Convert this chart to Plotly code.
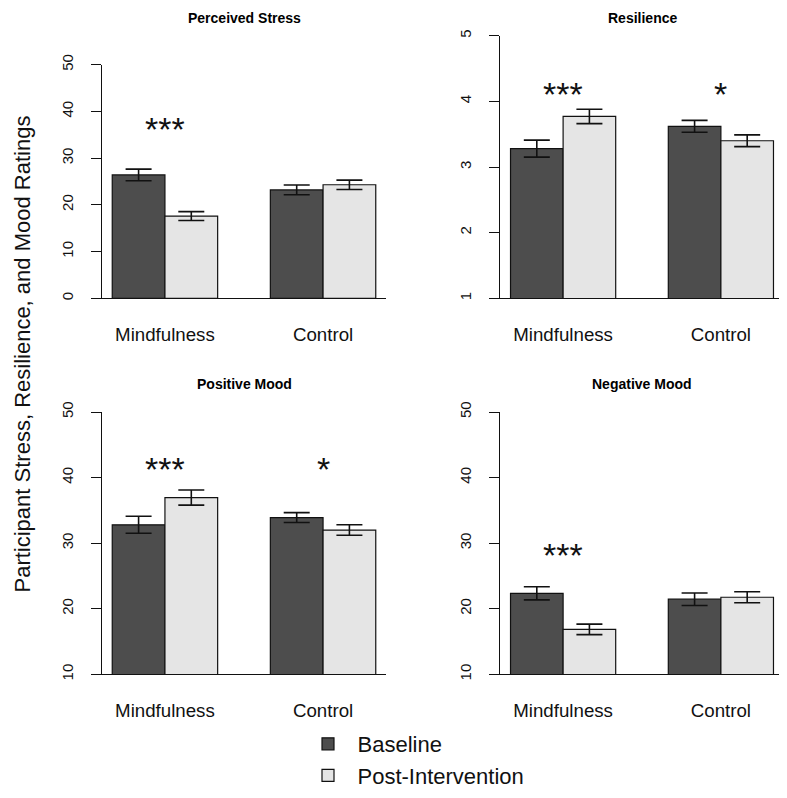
import plotly.graph_objects as go

groups = ["Mindfulness", "Control"]
series_names = ["Baseline", "Post-Intervention"]

panel_titles = ["Perceived Stress", "Resilience", "Positive Mood", "Negative Mood"]

stress_base = [26.4, 23.2]
stress_base_se = [1.25, 1.05]
stress_post = [17.6, 24.3]
stress_post_se = [0.95, 1.0]

resil_base = [3.28, 3.62]
resil_base_se = [0.13, 0.09]
resil_post = [3.77, 3.40]
resil_post_se = [0.11, 0.09]

posmood_base = [32.8, 33.9]
posmood_base_se = [1.3, 0.75]
posmood_post = [36.95, 32.0]
posmood_post_se = [1.15, 0.8]

negmood_base = [22.35, 21.45]
negmood_base_se = [1.0, 0.95]
negmood_post = [16.85, 21.75]
negmood_post_se = [0.8, 0.85]

# significance markers per panel: (group, label)
stress_sig = [("Mindfulness", "***")]
resil_sig = [("Mindfulness", "***"), ("Control", "*")]
posmood_sig = [("Mindfulness", "***"), ("Control", "*")]
negmood_sig = [("Mindfulness", "***")]

y_ticks = [
    [0, 10, 20, 30, 40, 50],
    [1, 2, 3, 4, 5],
    [10, 20, 30, 40, 50],
    [10, 20, 30, 40, 50],
]

# the page body keeps its default 8px margin, so the figure is 16px smaller
PAD = 8
W, H = 787 - 2 * PAD, 798 - 2 * PAD
FONT = "Liberation Sans, Arial, sans-serif"
DARK = "#4d4d4d"
LIGHT = "#e5e5e5"

panels = [
    (stress_base, stress_base_se, stress_post, stress_post_se, stress_sig),
    (resil_base, resil_base_se, resil_post, resil_post_se, resil_sig),
    (posmood_base, posmood_base_se, posmood_post, posmood_post_se, posmood_sig),
    (negmood_base, negmood_base_se, negmood_post, negmood_post_se, negmood_sig),
]

# plot regions in page pixels: (left, right, top, bottom)
regions = [
    (101.7, 386.3, 64.7, 298.3),
    (500.0, 784.0, 35.7, 298.3),
    (101.7, 386.3, 412.0, 674.3),
    (500.0, 784.0, 412.0, 674.3),
]
sig_heights = [37.0, 4.18, 41.9, 28.8]
title_y = [9, 9, 383.5, 383.5]
X_LO, X_HI = -0.4, 1.4


def px_x(x):
    return (x - PAD) / W


def px_y(y):
    return 1 - (y - PAD) / H


fig = go.Figure()
annotations = []

for i, (base, base_se, post, post_se, sig) in enumerate(panels):
    n = i + 1
    xa = "x" if n == 1 else f"x{n}"
    ya = "y" if n == 1 else f"y{n}"
    for vals, se, name, col in [
        (base, base_se, series_names[0], DARK),
        (post, post_se, series_names[1], LIGHT),
    ]:
        fig.add_trace(
            go.Bar(
                x=groups,
                y=vals,
                name=name,
                marker={"color": col, "line": {"color": "#111", "width": 1.2}},
                error_y={
                    "type": "data",
                    "array": se,
                    "color": "#111",
                    "thickness": 1.6,
                    "width": 13,
                },
                xaxis=xa,
                yaxis=ya,
                showlegend=(n == 1),
            )
        )

    left, right, top, bottom = regions[i]
    # the page edge cuts the right panels a little short; keep the same scale
    right_vis = min(right, PAD + W)
    x_hi = X_LO + (X_HI - X_LO) * (right_vis - left) / (right - left)
    ticks = y_ticks[i]
    ax_common = {"showgrid": False, "zeroline": False, "automargin": False}
    fig.update_layout(
        {
            ("xaxis" if n == 1 else f"xaxis{n}"): dict(
                ax_common,
                domain=[px_x(left), px_x(right_vis)],
                anchor=ya,
                range=[X_LO, x_hi],
                showline=True,
                linecolor="#111",
                linewidth=1.2,
                ticks="",
                ticklabelstandoff=19,
                tickfont={"size": 18.7, "color": "#111", "family": FONT},
            ),
            ("yaxis" if n == 1 else f"yaxis{n}"): dict(
                ax_common,
                domain=[px_y(bottom), px_y(top)],
                anchor=xa,
                range=[ticks[0], ticks[-1]],
                tickvals=ticks,
                showline=True,
                linecolor="#111",
                linewidth=1.2,
                ticks="outside",
                ticklen=10,
                tickwidth=1.2,
                tickcolor="#111",
                tickangle=-90,
                ticklabelstandoff=12,
                tickfont={"size": 15, "color": "#111", "family": FONT},
            ),
        }
    )

    top_row = i < 2
    annotations.append(
        {
            "text": f"<b>{panel_titles[i]}</b>",
            "xref": "paper",
            "yref": "paper",
            "x": px_x((left + right) / 2),
            "y": 1 if top_row else px_y(title_y[i]),
            "showarrow": False,
            "xanchor": "center",
            "yanchor": "top" if top_row else "middle",
            "font": {"size": 14, "color": "#000", "family": FONT},
        }
    )
    for grp, label in sig:
        annotations.append(
            {
                "text": label,
                "xref": xa,
                "yref": ya,
                "x": grp,
                "y": sig_heights[i],
                "yshift": -4,
                "showarrow": False,
                "xanchor": "center",
                "yanchor": "middle",
                "font": {"size": 34, "color": "#111", "family": FONT},
            }
        )

annotations.append(
    {
        "text": "Participant Stress, Resilience, and Mood Ratings",
        "xref": "paper",
        "yref": "paper",
        "x": 0,
        "y": px_y(354),
        "textangle": -90,
        "showarrow": False,
        "xanchor": "left",
        "yanchor": "middle",
        "font": {"size": 22, "color": "#111", "family": FONT},
    }
)

fig.update_layout(
    width=W,
    height=H,
    margin={"l": 0, "r": 0, "t": 0, "b": 0, "autoexpand": False},
    plot_bgcolor="white",
    paper_bgcolor="white",
    barmode="group",
    bargap=1 / 3,
    bargroupgap=0,
    annotations=annotations,
    font={"family": FONT},
    legend={
        "x": px_x(298.5),
        "y": -7 / H,
        "xanchor": "left",
        "yanchor": "bottom",
        "itemwidth": 49,
        "font": {"size": 22, "color": "#111", "family": FONT},
        "bgcolor": "rgba(0,0,0,0)",
        "tracegroupgap": 0,
    },
)

fig.write_html("out.html")
